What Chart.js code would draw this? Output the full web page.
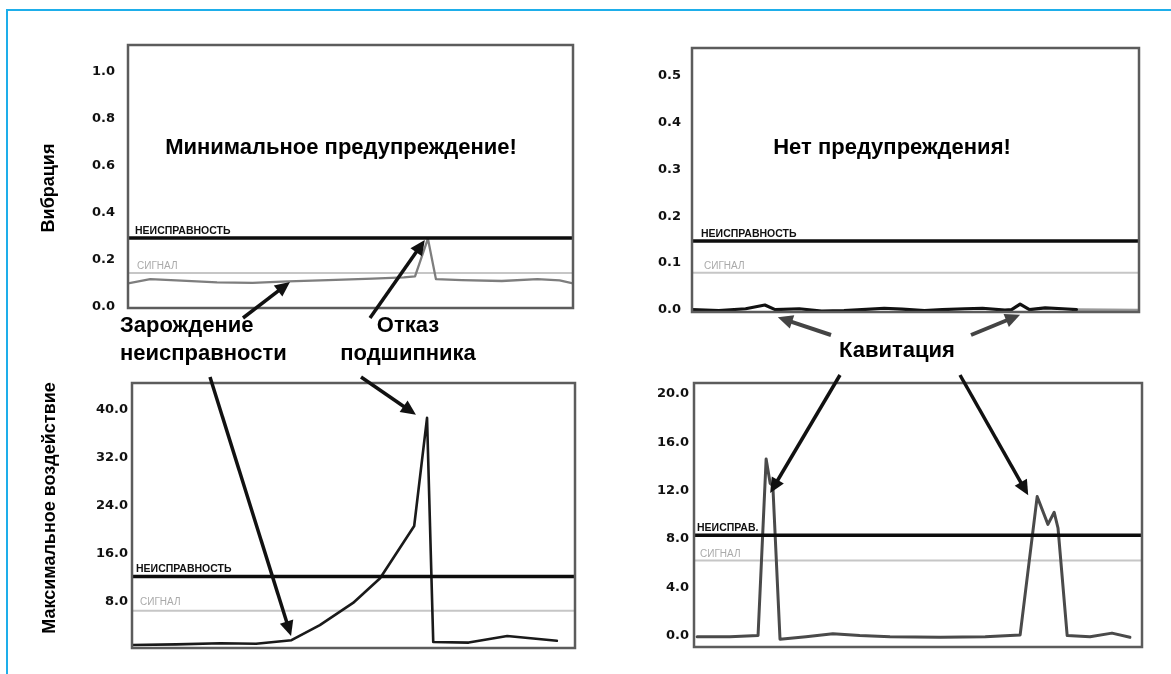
<!DOCTYPE html>
<html>
<head>
<meta charset="utf-8">
<script src="https://cdn.jsdelivr.net/npm/chart.js@4.4.1/dist/chart.umd.min.js"></script>
<style>
html,body{margin:0;padding:0;background:#fff;}
#page{position:relative;width:1171px;height:674px;overflow:hidden;background:#fff;}
#frame{position:absolute;left:6px;top:9px;width:1170px;height:670px;border-top:2px solid #1eaeea;border-left:2px solid #1eaeea;}
.cw{position:absolute;}
.t{position:absolute;font-family:"Liberation Sans",Arial,sans-serif;font-weight:bold;color:#000;white-space:nowrap;z-index:6;}
.c{transform:translate(-50%,-50%);}
.rot{transform:translate(-50%,-50%) rotate(-90deg);}
#arrows{position:absolute;left:0;top:0;z-index:5;pointer-events:none;}
</style>
</head>
<body>
<div id="page">
  <div id="frame"></div>
  <div class="cw" style="left:60px;top:35px;width:520px;height:280px;"><canvas id="cTL"></canvas></div>
  <div class="cw" style="left:620px;top:38px;width:527px;height:281px;"><canvas id="cTR"></canvas></div>
  <div class="cw" style="left:60px;top:373px;width:522px;height:282px;"><canvas id="cBL"></canvas></div>
  <div class="cw" style="left:620px;top:373px;width:529px;height:281px;"><canvas id="cBR"></canvas></div>
  <canvas id="arrows" width="1171" height="674"></canvas>

  <div class="t c" style="left:341px;top:147px;font-size:22px;">Минимальное предупреждение!</div>
  <div class="t c" style="left:892px;top:147px;font-size:22px;">Нет предупреждения!</div>
  <div class="t" style="left:120px;top:311px;font-size:22px;line-height:28px;">Зарождение<br>неисправности</div>
  <div class="t" style="left:408px;top:311px;font-size:22px;line-height:28px;text-align:center;transform:translateX(-50%);">Отказ<br>подшипника</div>
  <div class="t c" style="left:897px;top:350px;font-size:22px;">Кавитация</div>
  <div class="t rot" style="left:48px;top:188px;font-size:18px;">Вибрация</div>
  <div class="t rot" style="left:49px;top:508px;font-size:18px;">Максимальное воздействие</div>
</div>

<script>
// ---- Data ----
// Top-left: vibration (bearing)
const tlX = [0, 5, 12, 20, 28, 36, 45, 55, 62, 64.5, 67.4, 69.2, 75, 84, 92, 97, 100];
const tlY = [0.10, 0.118, 0.112, 0.104, 0.102, 0.108, 0.114, 0.12, 0.125, 0.13, 0.29, 0.118, 0.114, 0.11, 0.118, 0.113, 0.10];
const tlFault = 0.293, tlSignal = 0.144;

// Top-right: vibration (pump)
const trX = [0, 6, 12, 16.3, 18.6, 24, 29, 34, 38, 43, 47, 52, 56, 61, 65, 70, 71.5, 73.4, 75.5, 79, 83, 86];
const trY = [0, -0.002, 0.002, 0.01, 0.0, 0.002, -0.003, -0.002, 0.0, 0.003, 0.001, -0.002, 0.0, 0.002, 0.003, -0.001, 0.0, 0.012, 0.0, 0.004, 0.002, 0.0];
const trTailX = [86, 100];
const trTailY = [0.0, -0.001];
const trFault = 0.147, trSignal = 0.079;

// Bottom-left: max impact (bearing)
const blX = [0, 10, 20, 28, 36, 42.4, 49.9, 56, 63.7, 66.6, 68.0, 76, 84.7, 95.9];
const blY = [0.8, 0.9, 1.1, 1.0, 1.6, 4.1, 7.8, 11.9, 20.6, 38.6, 1.3, 1.2, 2.3, 1.5];
const blFault = 12.2, blSignal = 6.5;

// Bottom-right: max impact (pump, cavitation)
const brX = [0.7, 8, 14.3, 16.1, 17.0, 17.6, 19.2, 25, 31, 37, 43.75, 55, 65, 72.8, 76.6, 79.0, 80.4, 81.25, 83.3, 88.4, 93.3, 97.3];
const brY = [-0.1, -0.1, 0.0, 14.6, 12.6, 12.4, -0.3, -0.1, 0.15, 0.0, -0.1, -0.15, -0.1, 0.05, 11.5, 9.2, 10.2, 8.9, 0.0, -0.1, 0.2, -0.15];
const brFault = 8.3, brSignal = 6.2;

// Tick steps
const tlStep = 0.2, trStep = 0.1, blStep = 8, brStep = 4;
// Threshold labels
const faultText = ['НЕИСПРАВНОСТЬ', 'НЕИСПРАВНОСТЬ', 'НЕИСПРАВНОСТЬ', 'НЕИСПРАВ.'];
const signalText = 'СИГНАЛ';

// ---- helpers ----
const pts = (xs, ys) => xs.map((x, i) => ({x: x, y: ys[i]}));
const hline = v => [{x: 0, y: v}, {x: 100, y: v}];

const boxPlugin = {
  id: 'box',
  afterDatasetsDraw(chart, args, opts) {
    const ctx = chart.ctx, a = chart.chartArea, ys = chart.scales.y;
    ctx.save();
    (opts.labels || []).forEach(l => {
      ctx.font = l.font;
      ctx.fillStyle = l.color;
      ctx.textBaseline = 'alphabetic';
      ctx.textAlign = 'left';
      ctx.fillText(l.text, a.left + l.dx, ys.getPixelForValue(l.value) - l.dy);
    });
    ctx.strokeStyle = '#5c5c5c';
    ctx.lineWidth = 2.5;
    ctx.strokeRect(a.left, a.top, a.right - a.left, a.bottom - a.top);
    ctx.restore();
  }
};

const yFont = {family: 'DejaVu Sans', weight: 'bold', size: 13};
const faultFont = 'bold 10.5px "Liberation Sans", Arial, sans-serif';
const sigFont = '10px "Liberation Sans", Arial, sans-serif';

function mkChart(id, o) {
  return new Chart(document.getElementById(id), {
    type: 'line',
    data: {datasets: o.datasets},
    options: {
      animation: false,
      responsive: true,
      maintainAspectRatio: false,
      events: [],
      layout: {padding: o.pad},
      plugins: {legend: {display: false}, tooltip: {enabled: false}, box: {labels: o.labels}},
      elements: {point: {radius: 0}, line: {tension: 0, borderJoinStyle: 'round', borderCapStyle: 'round'}},
      scales: {
        x: {type: 'linear', min: 0, max: 100, display: false},
        y: {
          min: o.min, max: o.max,
          afterFit: s => { s.width = o.axisW; s.paddingTop = 0; s.paddingBottom = 0; },
          grid: {display: false, drawTicks: false},
          border: {display: false},
          ticks: {stepSize: o.step, includeBounds: false, padding: o.tickPad, color: '#111', font: yFont,
                  callback: v => Math.abs(v).toFixed(1)}
        }
      }
    },
    plugins: [boxPlugin]
  });
}

function thr(fault, signal) {
  return [
    {data: hline(fault), borderColor: '#0d0d0d', borderWidth: 3.5},
    {data: hline(signal), borderColor: '#c6c6c6', borderWidth: 2}
  ];
}

const charts = {};
{
  const t = thr(tlFault, tlSignal);
  charts.tl = mkChart('cTL', {
    min: -0.005, max: 1.115, step: tlStep, axisW: 68, tickPad: 13,
    pad: {top: 10, right: 7, bottom: 7, left: 0},
    datasets: [t[0], {data: pts(tlX, tlY), borderColor: '#7e7e7e', borderWidth: 2.3}, t[1]],
    labels: [
      {text: faultText[0], value: tlFault, dx: 7, dy: 4, font: faultFont, color: '#111'},
      {text: signalText, value: tlSignal, dx: 9, dy: 4, font: sigFont, color: '#aaa'}
    ]
  });
}
{
  const t = thr(trFault, trSignal);
  charts.tr = mkChart('cTR', {
    min: -0.005, max: 0.56, step: trStep, axisW: 72, tickPad: 11,
    pad: {top: 10, right: 8, bottom: 7, left: 0},
    datasets: [t[0], {data: pts(trX, trY), borderColor: '#111', borderWidth: 3.2},
               {data: pts(trTailX, trTailY), borderColor: '#9a9a9a', borderWidth: 3}, t[1]],
    labels: [
      {text: faultText[1], value: trFault, dx: 9, dy: 4, font: faultFont, color: '#111'},
      {text: signalText, value: trSignal, dx: 12, dy: 4, font: sigFont, color: '#aaa'}
    ]
  });
}
{
  const t = thr(blFault, blSignal);
  charts.bl = mkChart('cBL', {
    min: 0.3, max: 44.4, step: blStep, axisW: 72, tickPad: 4,
    pad: {top: 10, right: 7, bottom: 7, left: 0},
    datasets: [t[0], {data: pts(blX, blY), borderColor: '#1a1a1a', borderWidth: 2.6}, t[1]],
    labels: [
      {text: faultText[2], value: blFault, dx: 4, dy: 4, font: faultFont, color: '#111'},
      {text: signalText, value: blSignal, dx: 8, dy: 6, font: sigFont, color: '#aaa'}
    ]
  });
}
{
  const t = thr(brFault, brSignal);
  charts.br = mkChart('cBR', {
    min: -0.95, max: 20.9, step: brStep, axisW: 74, tickPad: 5,
    pad: {top: 10, right: 7, bottom: 7, left: 0},
    datasets: [t[0], {data: pts(brX, brY), borderColor: '#4a4a4a', borderWidth: 3}, t[1]],
    labels: [
      {text: faultText[3], value: brFault, dx: 3, dy: 4, font: faultFont, color: '#111'},
      {text: signalText, value: brSignal, dx: 6, dy: 4, font: sigFont, color: '#aaa'}
    ]
  });
}

// ---- Annotation arrows: head at a data point of a chart, tail near its caption ----
const arrows = [
  {chart: 'tl', to: [36.4, 0.106], from: [243, 318], color: '#111', w: 3.5},
  {chart: 'tl', to: [66.7, 0.285], from: [370, 318], color: '#111', w: 3.5},
  {chart: 'bl', to: [35.9, 2.3],   from: [210, 377], color: '#111', w: 3.5},
  {chart: 'bl', to: [64.1, 39.1],  from: [361, 377], color: '#111', w: 3.5},
  {chart: 'tr', to: [19.2, -0.016], from: [831, 335], color: '#444', w: 4},
  {chart: 'tr', to: [73.4, -0.011], from: [971, 335], color: '#444', w: 4},
  {chart: 'br', to: [17.0, 11.8],  from: [840, 375], color: '#111', w: 3.5},
  {chart: 'br', to: [74.6, 11.6],  from: [960, 375], color: '#111', w: 3.5}
];

function drawArrows() {
  const cv = document.getElementById('arrows');
  const ctx = cv.getContext('2d');
  const pageRect = document.getElementById('page').getBoundingClientRect();
  ctx.clearRect(0, 0, cv.width, cv.height);
  arrows.forEach(a => {
    const ch = charts[a.chart];
    const r = ch.canvas.getBoundingClientRect();
    const x2 = r.left - pageRect.left + ch.scales.x.getPixelForValue(a.to[0]);
    const y2 = r.top - pageRect.top + ch.scales.y.getPixelForValue(a.to[1]);
    const x1 = a.from[0], y1 = a.from[1];
    const ang = Math.atan2(y2 - y1, x2 - x1);
    const hl = 15, hw = 7;
    const bx = x2 - hl * Math.cos(ang), by = y2 - hl * Math.sin(ang);
    ctx.strokeStyle = a.color;
    ctx.fillStyle = a.color;
    ctx.lineWidth = a.w;
    ctx.lineCap = 'butt';
    ctx.beginPath();
    ctx.moveTo(x1, y1);
    ctx.lineTo(bx + 2 * Math.cos(ang), by + 2 * Math.sin(ang));
    ctx.stroke();
    ctx.beginPath();
    ctx.moveTo(x2, y2);
    ctx.lineTo(bx + hw * Math.sin(ang), by - hw * Math.cos(ang));
    ctx.lineTo(bx - hw * Math.sin(ang), by + hw * Math.cos(ang));
    ctx.closePath();
    ctx.fill();
  });
}
drawArrows();
</script>
</body>
</html>
